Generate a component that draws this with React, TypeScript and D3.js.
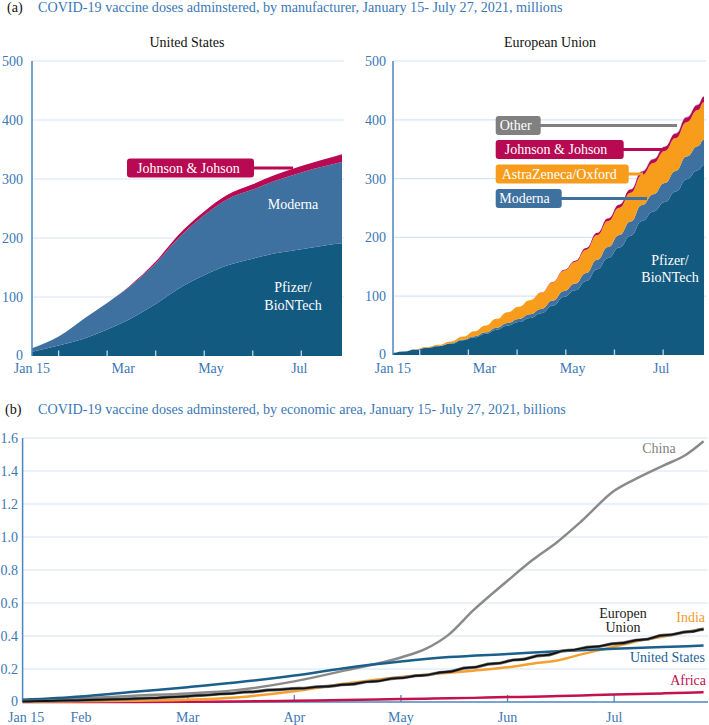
import React from "react";
import * as d3 from "d3";

// ---------- Panel (a): United States, millions of doses (cumulative) ----------
const usDates = ["2021-01-15","2021-02-01","2021-02-15","2021-03-01","2021-03-15","2021-04-01","2021-04-15","2021-05-01","2021-05-15","2021-06-01","2021-06-15","2021-07-01","2021-07-15","2021-07-27"];
const usPfizer = [7, 18, 29, 45, 62, 88, 114, 137, 153, 165, 174, 181, 187, 191];
const usModerna = [6, 15, 33, 45, 55, 69, 85.5, 101.5, 111.5, 117, 123, 130, 134, 138];
const usJJ = [0, 0, 0, 0, 1, 3, 5.5, 6.5, 7.5, 9, 10, 11, 12, 13];

// ---------- Panel (a): European Union, millions of doses (weekly, cumulative) ----------
const euDates = ["2021-01-15","2021-01-22","2021-01-29","2021-02-05","2021-02-12","2021-02-19","2021-02-26","2021-03-05","2021-03-12","2021-03-19","2021-03-26","2021-04-02","2021-04-09","2021-04-16","2021-04-23","2021-04-30","2021-05-07","2021-05-14","2021-05-21","2021-05-28","2021-06-04","2021-06-11","2021-06-18","2021-06-25","2021-07-02","2021-07-09","2021-07-16","2021-07-23","2021-07-27"];
const euPfizer = [4, 6, 9, 12, 15, 19, 25, 30, 36, 43, 50, 56, 63, 71, 84, 99, 110, 126, 146, 165, 183, 203, 228, 244, 260, 278, 299, 314, 323];
const euModerna = [0, 0.1, 0.3, 0.5, 0.7, 1, 1.3, 2, 2.6, 3.5, 4.4, 5.2, 6.2, 7.2, 8.5, 9.8, 11.5, 13.5, 16, 18.5, 21, 24, 27, 29.5, 32.5, 35, 38.5, 41, 43];
const euAZ = [0, 0, 0.4, 1, 1.7, 3, 5, 8.5, 11.5, 15, 18.5, 21, 24, 27.5, 31, 34.8, 37, 39.5, 42, 44.5, 46.5, 49, 51, 53, 54.5, 56, 58.5, 61.5, 64];
const euJJ = [0, 0, 0, 0, 0, 0, 0, 0, 0, 0, 0, 0, 0, 0.4, 0.8, 1.4, 2, 2.9, 3.8, 4.6, 5.2, 5.7, 6.2, 6.6, 7.1, 7.5, 8, 8.6, 9];
const euOther = [0, 0, 0, 0, 0, 0, 0, 0, 0, 0, 0, 0, 0, 0, 0, 0, 0, 0, 0, 0, 0.3, 0.4, 0.5, 0.6, 0.7, 0.8, 1, 1.1, 1.2];

// ---------- Panel (b): billions of doses by economic area ----------
const bDates = ["2021-01-15","2021-02-01","2021-02-15","2021-03-01","2021-03-15","2021-04-01","2021-04-15","2021-05-01","2021-05-08","2021-05-15","2021-05-22","2021-06-01","2021-06-08","2021-06-15","2021-06-22","2021-07-01","2021-07-08","2021-07-15","2021-07-22","2021-07-27"];
const chinaB = [0.01, 0.022, 0.038, 0.052, 0.072, 0.125, 0.19, 0.27, 0.32, 0.41, 0.555, 0.735, 0.86, 0.97, 1.1, 1.28, 1.36, 1.43, 1.5, 1.58];
const indiaB = [0, 0.004, 0.008, 0.014, 0.028, 0.065, 0.11, 0.152, 0.165, 0.178, 0.19, 0.21, 0.232, 0.252, 0.29, 0.335, 0.37, 0.395, 0.425, 0.445];
const africaB = [0, 0.0003, 0.0005, 0.001, 0.003, 0.008, 0.012, 0.018, 0.02, 0.022, 0.025, 0.03, 0.032, 0.036, 0.04, 0.045, 0.048, 0.052, 0.056, 0.059];

// ---------- Axis labels ----------
const aYTicks = [0, 100, 200, 300, 400, 500];
const aXLabels = ["Jan 15", "Mar", "May", "Jul"];
const aXLabelMonths = [0.45, 2.33, 4.14, 5.96];
const monthTicks = [1, 2, 3, 4, 5, 6];
const bYTicks = [0, 0.2, 0.4, 0.6, 0.8, 1.0, 1.2, 1.4, 1.6];
const bXLabels = ["Jan 15", "Feb", "Mar", "Apr", "May", "Jun", "Jul"];
const bXLabelMonths = [0.485, 1, 2, 3, 4, 5, 6];

const FONT = "'Liberation Serif', 'Times New Roman', serif";
const BLUE_TEXT = "#3a78b6";
const AXIS = "#4a86c0";
const GRID = "#d7e4f1";
const C_PFIZER = "#135a80";
const C_MODERNA = "#3e70a0";
const C_JJ = "#b80a52";
const C_AZ = "#f89c1c";
const C_OTHER = "#808080";
const HEAD = 14.15;

const monthPos = (s: string) => {
  const [yy, mm, dd] = s.split("-").map(Number);
  const dim = new Date(yy, mm, 0).getDate();
  return mm - 1 + (dd - 1) / dim;
};
const X0 = monthPos("2021-01-15");
const X1 = 6.88;

type Layer = { key: string; values: number[]; color: string };

function StackPanel(props: {
  x0: number; x1: number; yTop: number; yBot: number; labelRight: number;
  dates: string[]; layers: Layer[]; curve: any; title: string; titleX: number;
}) {
  const { x0, x1, yTop, yBot, dates, layers, curve } = props;
  const x = d3.scaleLinear().domain([X0, X1]).range([x0, x1]);
  const y = d3.scaleLinear().domain([0, 500]).range([yBot, yTop]);
  const rows = dates.map((d, i) => {
    const r: any = { m: monthPos(d) };
    layers.forEach((l) => (r[l.key] = l.values[i]));
    return r;
  });
  const stack = d3.stack<any>().keys(layers.map((l) => l.key));
  const series = stack(rows);
  const area = d3
    .area<any>()
    .x((d) => x(d.data.m))
    .y0((d) => y(d[0]))
    .y1((d) => y(d[1]))
    .curve(curve);
  return (
    <g>
      <text x={props.titleX} y={47} textAnchor="middle" fontSize={14} fill="#111">{props.title}</text>
      {aYTicks.filter((v) => v > 0).map((v) => (
        <line key={v} x1={x0} x2={x1} y1={y(v)} y2={y(v)} stroke={GRID} strokeWidth={1.2} />
      ))}
      {series.map((s, i) => (
        <path key={s.key} d={area(s) || ""} fill={layers[i].color} />
      ))}
      {monthTicks.map((m) => (
        <line key={m} x1={x(m)} x2={x(m)} y1={yBot} y2={yBot - 5.5} stroke="#c3d4e4" strokeWidth={1.3} />
      ))}
      <line x1={x0} x2={x0} y1={yTop} y2={yBot} stroke={AXIS} strokeWidth={1.5} />
      {aYTicks.map((v) => (
        <text key={v} x={props.labelRight} y={y(v) + (v === 0 ? 3.5 : 5)} textAnchor="end" fontSize={14} fill={BLUE_TEXT}>{v}</text>
      ))}
      {aXLabels.map((t, i) => (
        <text key={t} x={x(aXLabelMonths[i])} y={373} textAnchor="middle" fontSize={14} fill={BLUE_TEXT}>{t}</text>
      ))}
    </g>
  );
}

function Tag(props: { x: number; y: number; w: number; tx: number; text: string; color: string; lineTo: number }) {
  const h = 19;
  return (
    <g>
      <line x1={props.x + props.w - 2} x2={props.lineTo} y1={props.y + h / 2} y2={props.y + h / 2} stroke={props.color} strokeWidth={3} />
      <rect x={props.x} y={props.y} width={props.w} height={h} rx={3} fill={props.color} />
      <text x={props.x + props.tx} y={props.y + 14.3} fontSize={14} fill="#fff">{props.text}</text>
    </g>
  );
}

function PanelB() {
  const x = d3.scaleLinear().domain([X0, X1]).range([22.6, 708]);
  const y = d3.scaleLinear().domain([0, 1.6]).range([702, 438]);
  const smooth = (dates: string[], vals: number[]) =>
    d3.line<number>().x((_, i) => x(monthPos(dates[i]))).y((v) => y(v)).curve(d3.curveMonotoneX)(vals) || "";
  const euTotal = euDates.map((_, i) => (euPfizer[i] + euModerna[i] + euAZ[i] + euJJ[i] + euOther[i]) / 1000);
  const usTotal = usDates.map((_, i) => (usPfizer[i] + usModerna[i] + usJJ[i]) / 1000);
  const euPath = d3.line<number>().x((_, i) => x(monthPos(euDates[i]))).y((v) => y(v)).curve(d3.curveBumpX)(euTotal) || "";
  return (
    <g>
      <text x={5} y={414} fontSize={HEAD} fill="#111">(b)</text>
      <text x={38} y={414} fontSize={HEAD} fill={BLUE_TEXT}>COVID-19 vaccine doses adminstered, by economic area, January 15- July 27, 2021, billions</text>
      {bYTicks.filter((v) => v > 0).map((v) => (
        <line key={v} x1={22.6} x2={708} y1={y(v)} y2={y(v)} stroke={GRID} strokeWidth={1.2} />
      ))}
      <line x1={22.6} x2={22.6} y1={438} y2={702} stroke={AXIS} strokeWidth={1.5} />
      <line x1={22.6} x2={708} y1={702} y2={702} stroke={AXIS} strokeWidth={1.5} />
      {monthTicks.map((m) => (
        <line key={m} x1={x(m)} x2={x(m)} y1={702} y2={695} stroke={AXIS} strokeWidth={1.3} />
      ))}
      {bYTicks.map((v) => (
        <text key={v} x={18} y={y(v) + (v === 0 ? 3.5 : 5)} textAnchor="end" fontSize={14} fill={BLUE_TEXT}>{v === 0 ? "0" : v.toFixed(1)}</text>
      ))}
      {bXLabels.map((t, i) => (
        <text key={t} x={x(bXLabelMonths[i])} y={722} textAnchor="middle" fontSize={14} fill={BLUE_TEXT}>{t}</text>
      ))}
      <path d={smooth(bDates, africaB)} fill="none" stroke="#c3104f" strokeWidth={2.5} />
      <path d={smooth(bDates, indiaB)} fill="none" stroke="#f7a030" strokeWidth={2.5} />
      <path d={smooth(bDates, chinaB)} fill="none" stroke="#8a8a8a" strokeWidth={2.5} />
      <path d={smooth(usDates, usTotal)} fill="none" stroke="#1b5f8c" strokeWidth={2.5} />
      <path d={euPath} fill="none" stroke="#6d6d6d" strokeWidth={3.2} />
      <path d={euPath} fill="none" stroke="#111" strokeWidth={1.8} />
      <text x={659} y={453} textAnchor="middle" fontSize={14} fill="#7f7f7f">China</text>
      <text x={623} y={618} textAnchor="middle" fontSize={14} fill="#222">Europen</text>
      <text x={623} y={632} textAnchor="middle" fontSize={14} fill="#222">Union</text>
      <text x={705} y={622} textAnchor="end" fontSize={14} fill="#f39a2b">India</text>
      <text x={705} y={662} textAnchor="end" fontSize={14} fill="#1d6296">United States</text>
      <text x={706} y={685} textAnchor="end" fontSize={14} fill="#c01050">Africa</text>
    </g>
  );
}

export default function App() {
  return (
    <svg width={709} height={725} viewBox="0 0 709 725" style={{ position: "absolute", left: 0, top: 0, background: "#fff" }} fontFamily={FONT}>
      <rect x={0} y={0} width={709} height={725} fill="#fff" />
      <text x={7} y={12} fontSize={HEAD} fill="#111">(a)</text>
      <text x={38} y={12} fontSize={HEAD} fill={BLUE_TEXT}>COVID-19 vaccine doses adminstered, by manufacturer, January 15- July 27, 2021, millions</text>
      <StackPanel
        x0={32} x1={344} yTop={61} yBot={356} labelRight={23}
        dates={usDates}
        layers={[
          { key: "Pfizer", values: usPfizer, color: C_PFIZER },
          { key: "Moderna", values: usModerna, color: C_MODERNA },
          { key: "JJ", values: usJJ, color: C_JJ },
        ]}
        curve={d3.curveMonotoneX}
        title="United States" titleX={187}
      />
      <text x={293} y={209} textAnchor="middle" fontSize={14} fill="#fff">Moderna</text>
      <text x={293} y={292} textAnchor="middle" fontSize={14} fill="#fff">Pfizer/</text>
      <text x={293} y={310} textAnchor="middle" fontSize={14} fill="#fff">BioNTech</text>
      <Tag x={127} y={158.5} w={127} tx={10} text="Johnson & Johson" color={C_JJ} lineTo={293} />

      <StackPanel
        x0={393} x1={706} yTop={61} yBot={355} labelRight={386}
        dates={euDates}
        layers={[
          { key: "Pfizer", values: euPfizer, color: C_PFIZER },
          { key: "Moderna", values: euModerna, color: C_MODERNA },
          { key: "AZ", values: euAZ, color: C_AZ },
          { key: "JJ", values: euJJ, color: C_JJ },
          { key: "Other", values: euOther, color: C_OTHER },
        ]}
        curve={d3.curveBumpX}
        title="European Union" titleX={550}
      />
      <text x={670} y={265} textAnchor="middle" fontSize={14} fill="#fff">Pfizer/</text>
      <text x={670} y={282} textAnchor="middle" fontSize={14} fill="#fff">BioNTech</text>
      <Tag x={495.7} y={116} w={45} tx={4} text="Other" color={C_OTHER} lineTo={677} />
      <Tag x={495.7} y={140} w={128} tx={9} text="Johnson & Johson" color={C_JJ} lineTo={663} />
      <Tag x={495.7} y={164.5} w={133} tx={6} text="AstraZeneca/Oxford" color={C_AZ} lineTo={643} />
      <Tag x={495.7} y={189} w={66} tx={3.5} text="Moderna" color={C_MODERNA} lineTo={647} />

      <PanelB />
    </svg>
  );
}
